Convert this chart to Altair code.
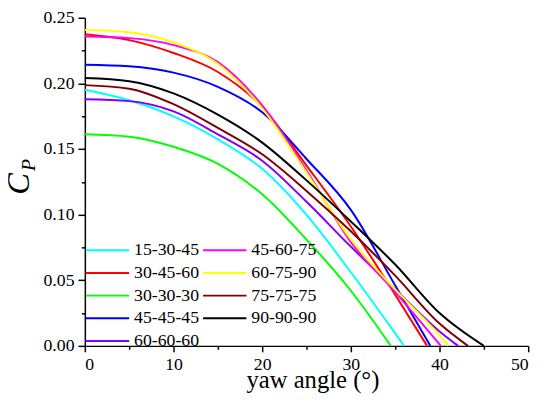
import altair as alt
import pandas as pd

# ---- data ----
labels = ["15-30-45", "30-45-60", "30-30-30", "45-45-45", "60-60-60",
          "45-60-75", "60-75-90", "75-75-75", "90-90-90"]
colors = ["#00FFFF", "#FF0000", "#00FF00", "#0000FF", "#8000FF",
          "#FF00FF", "#FFFF00", "#800000", "#000000"]

x_15_30_45 = [0, 5, 10, 15, 20, 25, 30, 35, 36.0]
y_15_30_45 = [0.1952, 0.1872, 0.1749, 0.1574, 0.1349, 0.0998, 0.0561, 0.0095, 0]
x_30_45_60 = [0, 5, 10, 15, 20, 25, 30, 35, 38.6]
y_30_45_60 = [0.2375, 0.2330, 0.2232, 0.2087, 0.1820, 0.1374, 0.0910, 0.0390, 0]
x_30_30_30 = [0, 5, 10, 15, 20, 25, 30, 34.5]
y_30_30_30 = [0.1612, 0.1594, 0.1517, 0.1387, 0.1155, 0.0810, 0.0420, 0]
x_45_45_45 = [0, 5, 10, 15, 20, 25, 30, 35, 38.96]
y_45_45_45 = [0.2142, 0.2130, 0.2082, 0.1974, 0.1780, 0.1424, 0.1036, 0.0460, 0]
x_60_60_60 = [0, 5, 10, 15, 20, 25, 30, 35, 40, 42.1]
y_60_60_60 = [0.1879, 0.1865, 0.1787, 0.1612, 0.1411, 0.1098, 0.0756, 0.0430, 0.0110, 0]
x_45_60_75 = [0, 5, 10, 15, 20, 25, 30, 35, 40.15]
y_45_60_75 = [0.2357, 0.2345, 0.2292, 0.2162, 0.1832, 0.1336, 0.0790, 0.0410, 0]
x_60_75_90 = [0, 5, 10, 15, 20, 25, 30, 35, 40, 41.0]
y_60_75_90 = [0.2408, 0.2390, 0.2312, 0.2150, 0.1810, 0.1320, 0.0811, 0.0430, 0.0080, 0]
x_75_75_75 = [0, 5, 10, 15, 20, 25, 30, 35, 40, 43.2]
y_75_75_75 = [0.1987, 0.1960, 0.1842, 0.1661, 0.1460, 0.1181, 0.0873, 0.0535, 0.0170, 0]
x_90_90_90 = [0, 5, 10, 15, 20, 25, 30, 35, 40, 45.0]
y_90_90_90 = [0.2042, 0.2017, 0.1924, 0.1762, 0.1549, 0.1261, 0.0948, 0.0620, 0.0250, 0]

x_major = [0, 10, 20, 30, 40, 50]
x_minor = [5, 15, 25, 35, 45]
y_major = [0.00, 0.05, 0.10, 0.15, 0.20, 0.25]
y_minor = [0.025, 0.075, 0.125, 0.175, 0.225]

series = {
    "15-30-45": (x_15_30_45, y_15_30_45),
    "30-45-60": (x_30_45_60, y_30_45_60),
    "30-30-30": (x_30_30_30, y_30_30_30),
    "45-45-45": (x_45_45_45, y_45_45_45),
    "60-60-60": (x_60_60_60, y_60_60_60),
    "45-60-75": (x_45_60_75, y_45_60_75),
    "60-75-90": (x_60_75_90, y_60_75_90),
    "75-75-75": (x_75_75_75, y_75_75_75),
    "90-90-90": (x_90_90_90, y_90_90_90),
}

rows = []
for name, (xs, ys) in series.items():
    for xv, yv in zip(xs, ys):
        rows.append({"series": name, "yaw": xv, "cp": yv})
df = pd.DataFrame(rows)

FONT = "Liberation Serif"
xscale = alt.Scale(domain=[0, 50], nice=False, zero=False)
yscale = alt.Scale(domain=[0, 0.25], nice=False, zero=False)

lines = alt.Chart(df).mark_line(strokeWidth=2, interpolate="monotone").encode(
    x=alt.X("yaw:Q", scale=xscale,
            axis=alt.Axis(values=x_major, format="d", orient="bottom",
                          title="yaw angle (°)", titleFontSize=25,
                          titleFont=FONT, titleFontWeight="normal",
                          titleX=231, titleY=42, titleBaseline="alphabetic",
                          titleAlign="center",
                          labelFontSize=18, labelFont=FONT, labelPadding=4,
                          tickSize=6, tickWidth=1.5, domainWidth=1.5,
                          domainColor="black", tickColor="black",
                          labelColor="black", titleColor="black", grid=False)),
    y=alt.Y("cp:Q", scale=yscale,
            axis=alt.Axis(values=y_major, format=".2f", orient="left",
                          title="C", titleFontSize=33, titleFont=FONT,
                          titleFontStyle="italic", titleFontWeight="normal",
                          titleAngle=270, titleX=-57, titleY=168,
                          titleAlign="center", titleBaseline="alphabetic",
                          labelFontSize=18, labelFont=FONT, labelPadding=4,
                          tickSize=7, tickWidth=1.5, domainWidth=1.5,
                          domainColor="black", tickColor="black",
                          labelColor="black", titleColor="black", grid=False)),
    color=alt.Color("series:N",
                    scale=alt.Scale(domain=labels, range=colors),
                    legend=alt.Legend(title=None, orient="none",
                                      legendX=12, legendY=225, columns=2,
                                      direction="vertical",
                                      symbolType="M-2.2,0H2.2", symbolSize=400,
                                      symbolStrokeWidth=2,
                                      labelFontSize=18, labelFont=FONT,
                                      labelColor="black", labelOffset=16,
                                      columnPadding=0, rowPadding=3,
                                      padding=0, labelLimit=200)),
    order=alt.Order("yaw:Q"),
)

minor = alt.Chart(df).mark_point(opacity=0).encode(
    x=alt.X("yaw:Q", scale=xscale,
            axis=alt.Axis(values=x_minor, labels=False, orient="bottom",
                          title=None, tickSize=3.5, tickWidth=1.5,
                          domain=False, tickColor="black", grid=False)),
    y=alt.Y("cp:Q", scale=yscale,
            axis=alt.Axis(values=y_minor, labels=False, orient="left",
                          title="P", titleFontSize=20, titleFont=FONT,
                          titleFontStyle="italic", titleFontWeight="normal",
                          titleAngle=270, titleX=-51, titleY=149,
                          titleAlign="center", titleBaseline="alphabetic",
                          titleColor="black",
                          tickSize=3.5, tickWidth=1.5,
                          domain=False, tickColor="black", grid=False)),
)

chart = alt.layer(lines, minor).resolve_axis(
    x="independent", y="independent"
).properties(
    width=450, height=333,
    padding={"left": 78, "top": 7, "right": 14, "bottom": 52},
    autosize=alt.AutoSizeParams(type="none"),
).configure(
    background="white", font=FONT
).configure_view(stroke=None)

chart.save("out.html", embed_options={"renderer": "svg", "actions": False})
